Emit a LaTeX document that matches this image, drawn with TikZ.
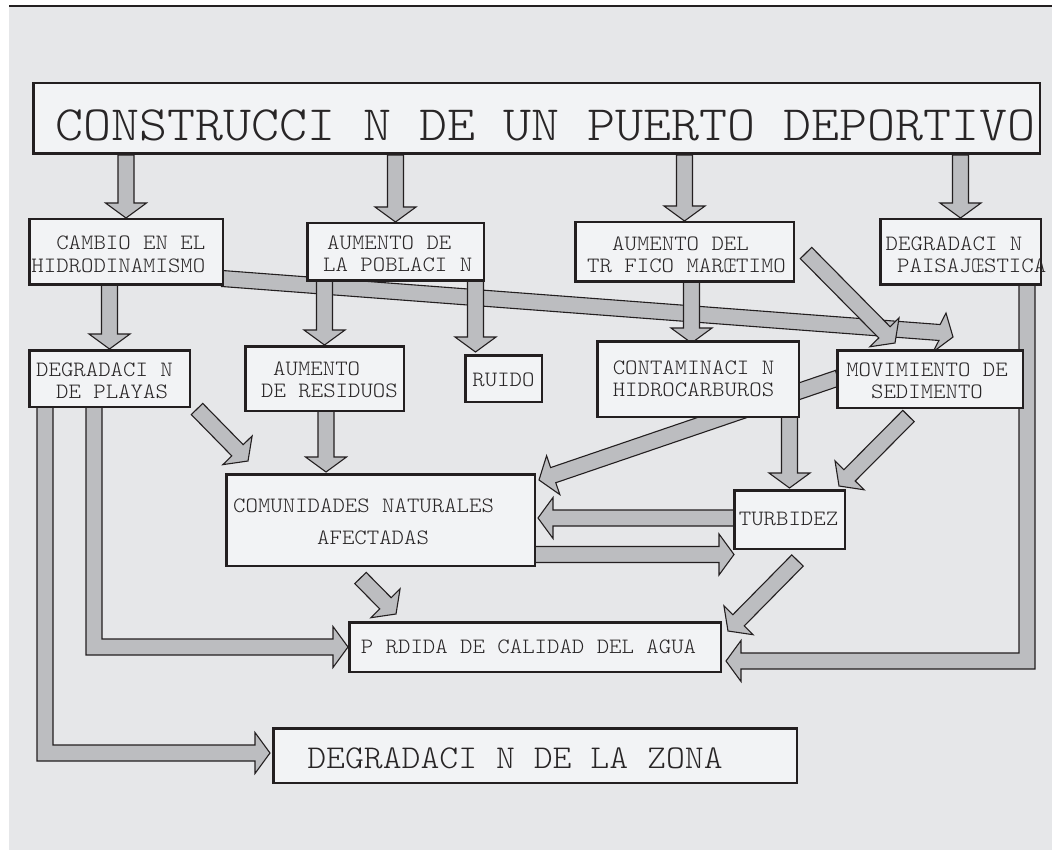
\documentclass[tikz,border=0pt]{standalone}
\usepackage{fontspec}
\usetikzlibrary{calc}
\newfontfamily\cour{lmmonolt10-regular.otf}[FakeStretch=1.08]
\definecolor{bgcol}{RGB}{230,231,233}
\definecolor{boxfill}{RGB}{242,243,245}
\definecolor{arrfill}{RGB}{188,189,192}
\definecolor{inkcol}{RGB}{35,31,32}
\definecolor{txtcol}{RGB}{40,37,38}
\pgfdeclarelayer{bglayer}
\pgfdeclarelayer{arrlayer}
\pgfsetlayers{bglayer,arrlayer,main}
% shaft S->B, head base B, tip E
\newcommand\fatcore[3]{%
 \coordinate (faS) at (#1);
 \coordinate (faB) at (#2);
 \coordinate (faE) at (#3);
 \draw[fat] ($(faS)!8pt!90:(faB)$) -- ($(faB)!8pt!-90:(faS)$) -- ($(faB)!20.5pt!90:(faE)$) -- (faE) -- ($(faB)!20.5pt!-90:(faE)$) -- ($(faB)!8pt!90:(faS)$) -- ($(faS)!8pt!-90:(faB)$) -- cycle;}
\newcommand\fatarr[2]{%
 \coordinate (faSz) at (#1);
 \coordinate (faEz) at (#2);
 \fatcore{faSz}{$(faEz)!15pt!(faSz)$}{faEz}}
\begin{document}
\begin{tikzpicture}[x=1pt,y=-1pt,
  box/.style={draw=inkcol, fill=boxfill, line width=2.5pt, inner sep=0pt, rectangle},
  fat/.style={fill=arrfill, draw=inkcol, line width=1.1pt, line join=miter},
  lbl/.style={inner sep=0pt, text=txtcol, font=\cour\fontsize{21.9}{22.5}\selectfont}]
\useasboundingbox (0,0) rectangle (1052,850);
\begin{pgfonlayer}{bglayer}
\fill[bgcol] (9,6) rectangle (1052,850);
\draw[inkcol, line width=2.4pt] (9,6.2) -- (1052,6.2);
\end{pgfonlayer}

% boxes
\node[box, minimum width=1006.5pt, minimum height=70.5pt] (title) at (536.5,118.5) {};
\node[box, minimum width=193.5pt, minimum height=65.5pt] (cambio) at (126,252) {};
\node[box, minimum width=176.5pt, minimum height=57.5pt] (pob) at (395.5,252) {};
\node[box, minimum width=218.5pt, minimum height=59.5pt] (traf) at (684.5,252) {};
\node[box, minimum width=160.5pt, minimum height=65.5pt] (paisaj) at (960.5,252) {};
\node[box, minimum width=160.5pt, minimum height=56.5pt] (playas) at (109.5,378.5) {};
\node[box, minimum width=158.5pt, minimum height=64.5pt] (residuos) at (324.5,378.5) {};
\node[box, minimum width=76.5pt, minimum height=46.5pt] (ruido) at (503.5,378.5) {};
\node[box, minimum width=201.5pt, minimum height=75.5pt] (contam) at (698,379) {};
\node[box, minimum width=185.5pt, minimum height=57.5pt] (mov) at (930,379) {};
\node[box, minimum width=308.5pt, minimum height=91.5pt] (comun) at (380.5,520) {};
\node[box, minimum width=110.5pt, minimum height=58.5pt] (turb) at (789.5,519.5) {};
\node[box, minimum width=371.5pt, minimum height=49.5pt] (perdida) at (535,647) {};
\node[box, minimum width=523.5pt, minimum height=54.5pt] (zona) at (535,755.5) {};

% texts
\node[lbl, font=\cour\fontsize{49.4}{50}\selectfont] (ttitle) at (545.5,125) {CONSTRUCCI N DE UN PUERTO DEPORTIVO};
\node[lbl, align=right, anchor=east] (tcambio) at (205.5,254.5) {CAMBIO EN EL\\HIDRODINAMISMO};
\node[lbl, align=left, anchor=west] (tpob) at (323,254) {\hspace*{4pt}AUMENTO DE\\LA POBLACI N};
\node[lbl, align=left, anchor=west] (ttraf) at (587,255) {\hspace*{25pt}AUMENTO DEL\\TR FICO MARŒTIMO};
\node[lbl, align=left, anchor=west] (tpais) at (885.5,255) {DEGRADACI N\\\hspace*{11.5pt}PAISAJŒSTICA};
\node[lbl, align=left, anchor=west] (tplay) at (36,381) {DEGRADACI N\\\hspace*{20pt}DE PLAYAS};
\node[lbl, align=left, anchor=west] (tres) at (261,380) {\hspace*{12pt}AUMENTO\\DE RESIDUOS};
\node[lbl] (truido) at (503.5,380) {RUIDO};
\node[lbl, align=left] (tcont) at (693.5,379) {CONTAMINACI N\\HIDROCARBUROS};
\node[lbl, align=center] (tmov) at (927,381) {MOVIMIENTO DE\\SEDIMENTO};
\node[lbl, align=left, anchor=west, font=\cour\fontsize{21.9}{32}\selectfont] (tcom) at (233,521.5) {COMUNIDADES NATURALES\\\hspace*{84pt}AFECTADAS};
\node[lbl] (tturb) at (788.5,519) {TURBIDEZ};
\node[lbl] (tperd) at (528.5,647) {P RDIDA DE CALIDAD DEL AGUA};
\node[lbl, font=\cour\fontsize{33.3}{36}\selectfont] (tzona) at (515,758) {DEGRADACI N DE LA ZONA};

\begin{pgfonlayer}{arrlayer}
% long arrow CAMBIO -> MOVIMIENTO
\fatcore{$(cambio.east)+(-2,26.5)$}{$(mov.north)+(9.5,-16.5)$}{$(mov.north)+(23,-12)$}
% MOVIMIENTO -> COMUNIDADES (behind contaminacion)
\fatarr{$(mov.west)+(2,-1)$}{$(comun.north east)+(3,7)$}
% title arrows
\fatarr{title.south -| cambio.north}{cambio.north}
\fatarr{title.south -| pob.north}{pob.north}
\fatarr{title.south -| traf.north}{traf.north}
\fatarr{title.south -| paisaj.north}{paisaj.north}
% second level
\fatarr{$(cambio.south)+(-16.5,-2)$}{playas.north}
\fatarr{$(pob.south west)+(18.5,-2)$}{residuos.north}
\fatarr{$(pob.south east)+(-9.5,-2)$}{$(ruido.north)+(-28,-2)$}
\fatarr{$(traf.south)+(7,-2)$}{$(contam.north)+(-6.5,3)$}
\fatarr{$(traf.east)+(11,1)$}{$(mov.north west)+(59,-6)$}
% third level
\fatarr{$(playas.south east)+(6,1)$}{$(comun.north west)+(23,-12)$}
\fatarr{$(residuos.south)+(1.5,-2)$}{$(comun.north)+(-54.5,-1)$}
\fatarr{$(contam.south)+(91.5,-2)$}{$(turb.north)+(0,-1)$}
\fatarr{$(mov.south)+(-21.5,7)$}{$(turb.north east)+(-7,-3)$}
\fatarr{$(turb.west)+(2,-1.5)$}{$(comun.east)+(2,-2)$}
\fatarr{$(comun.east)+(-2,34.5)$}{$(turb.west)+(1,35)$}
\fatarr{$(comun.south)+(-20,11)$}{$(perdida.north west)+(48,-7)$}
\fatarr{$(turb.south)+(8,10.5)$}{$(perdida.north east)+(6,10)$}
% elbow: playas -> zona
\coordinate (e1S) at ($(playas.south west)+(17,-2)$);
\coordinate (e1E) at ($(zona.west)+(-2,-2.5)$);
\coordinate (e1C) at (e1S |- e1E);
\draw[fat] ($(e1S)+(-8,0)$) -- ($(e1C)+(-8,8)$) -- ($(e1E)+(-15,8)$) -- ($(e1E)+(-15,20.5)$) -- (e1E) -- ($(e1E)+(-15,-20.5)$) -- ($(e1E)+(-15,-8)$) -- ($(e1C)+(8,-8)$) -- ($(e1S)+(8,0)$) -- cycle;
% elbow: playas -> perdida
\coordinate (e2S) at ($(playas.south west)+(66,-2)$);
\coordinate (e2E) at (perdida.west);
\coordinate (e2C) at (e2S |- e2E);
\draw[fat] ($(e2S)+(-8,0)$) -- ($(e2C)+(-8,8)$) -- ($(e2E)+(-15,8)$) -- ($(e2E)+(-15,20.5)$) -- (e2E) -- ($(e2E)+(-15,-20.5)$) -- ($(e2E)+(-15,-8)$) -- ($(e2C)+(8,-8)$) -- ($(e2S)+(8,0)$) -- cycle;
% elbow: paisajistica -> perdida
\coordinate (e3S) at ($(paisaj.south east)+(-15,-2)$);
\coordinate (e3E) at ($(perdida.east)+(4,14)$);
\coordinate (e3C) at (e3S |- e3E);
\draw[fat] ($(e3S)+(8,0)$) -- ($(e3C)+(8,8)$) -- ($(e3E)+(15,8)$) -- ($(e3E)+(15,20.5)$) -- (e3E) -- ($(e3E)+(15,-20.5)$) -- ($(e3E)+(15,-8)$) -- ($(e3C)+(-8,-8)$) -- ($(e3S)+(-8,0)$) -- cycle;
\end{pgfonlayer}
\end{tikzpicture}
\end{document}
